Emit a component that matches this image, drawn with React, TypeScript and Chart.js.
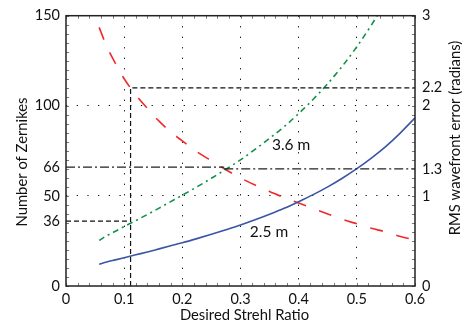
import React, { useEffect, useRef } from "react";
import { Chart, registerables } from "chart.js";

Chart.register(...registerables);

// ---- data ----
const strehl = [0.057, 0.07, 0.085, 0.1, 0.12, 0.14, 0.16, 0.18, 0.2, 0.225, 0.25, 0.275, 0.3, 0.325, 0.35, 0.375, 0.4, 0.425, 0.45, 0.475, 0.5, 0.525, 0.55, 0.575, 0.6];
const zernikes25m = [12.1, 13.3, 14.5, 15.7, 17.3, 18.9, 20.6, 22.3, 24.0, 26.3, 28.7, 31.2, 33.8, 36.7, 39.8, 43.1, 46.8, 50.7, 55.0, 59.8, 65.1, 71.0, 77.5, 85.0, 93.3];
const zernikes36m = [25.3, 27.9, 30.4, 33.0, 36.3, 39.7, 43.2, 46.8, 50.4, 55.0, 59.8, 64.8, 70.0, 75.8, 82.0, 88.4, 95.7, 103.6, 112.3, 122.0, 132.8, 144.8, 158.1, 173.4, 190.3];
const rmsError = [2.87, 2.66, 2.47, 2.30, 2.12, 1.97, 1.83, 1.71, 1.61, 1.49, 1.39, 1.29, 1.20, 1.12, 1.05, 0.98, 0.92, 0.86, 0.80, 0.74, 0.69, 0.64, 0.60, 0.55, 0.51];

const xTicks = [0, 0.1, 0.2, 0.3, 0.4, 0.5, 0.6];
const leftTicks = [0, 36, 50, 66, 100, 150];
const rightTicks = [0, 1, 1.3, 2, 2.2, 3];
const leftGrid = [50, 100];
const xGrid = [0.1, 0.2, 0.3, 0.4, 0.5];

// guide lines
const designStrehl = 0.111;
const guideZernikesLow = 36;
const guideRmsHigh = 2.2;
const guideZernikesMid = 66;
const guideRmsMid = 1.3;
const dashDotSplit = 0.272;

const curveLabels = [
  { text: "3.6 m", x: 0.387, y: 78 },
  { text: "2.5 m", x: 0.349, y: 30 },
];

const FONT = "Lato, 'Open Sans', sans-serif";

const decor = {
  id: "decor",
  afterDraw(chart: any) {
    const { ctx, chartArea: a, scales } = chart;
    const x = scales.x, y = scales.y, y2 = scales.y2;
    ctx.save();
    // minor tick marks (inward)
    ctx.strokeStyle = "#777";
    ctx.lineWidth = 1;
    ctx.beginPath();
    for (let i = 0; i <= 30; i++) {
      const px = Math.round(x.getPixelForValue(i * 0.02)) + 0.5;
      ctx.moveTo(px, a.bottom); ctx.lineTo(px, a.bottom - 3);
      ctx.moveTo(px, a.top); ctx.lineTo(px, a.top + 3);
    }
    for (let i = 0; i <= 30; i++) {
      const py = Math.round(y.getPixelForValue(i * 5)) + 0.5;
      ctx.moveTo(a.left, py); ctx.lineTo(a.left + 3, py);
      const py2 = Math.round(y2.getPixelForValue(i * 0.1)) + 0.5;
      ctx.moveTo(a.right, py2); ctx.lineTo(a.right - 3, py2);
    }
    ctx.stroke();
    // box
    ctx.strokeStyle = "#222";
    ctx.lineWidth = 1.5;
    ctx.strokeRect(a.left, a.top, a.right - a.left, a.bottom - a.top);

    // curve labels
    ctx.fillStyle = "#111";
    ctx.font = `15.5px ${FONT}`;
    ctx.textAlign = "center";
    ctx.textBaseline = "middle";
    for (const l of curveLabels) {
      ctx.fillText(l.text, x.getPixelForValue(l.x), y.getPixelForValue(l.y));
    }

    // axis titles
    ctx.font = `14.8px ${FONT}`;
    ctx.textBaseline = "alphabetic";
    ctx.fillText("Desired Strehl Ratio", (a.left + a.right) / 2 + 4, 320);

    ctx.save();
    ctx.translate(26.5, 162);
    ctx.rotate(-Math.PI / 2);
    ctx.fillText("Number of Zernikes", 0, 0);
    ctx.restore();

    ctx.save();
    ctx.translate(460, 138);
    ctx.rotate(-Math.PI / 2);
    ctx.fillText("RMS wavefront error (radians)", 0, 0);
    ctx.restore();

    ctx.restore();
  },
};

const pts = (xs: number[], ys: number[]) => xs.map((v, i) => ({ x: v, y: ys[i] }));

export default function App() {
  const ref = useRef<HTMLCanvasElement>(null);
  useEffect(() => {
    document.body.style.margin = "0";
    const canvas = ref.current!;
    const tickFont = { family: FONT, size: 14.5 };
    const chart = new Chart(canvas, {
      type: "line",
      data: {
        datasets: [
          {
            data: pts([0, designStrehl], [guideZernikesLow, guideZernikesLow]),
            yAxisID: "y", borderColor: "#111", borderWidth: 1.2, borderDash: [5, 3],
          },
          {
            data: [
              { x: designStrehl, y: 0 },
              { x: designStrehl, y: guideRmsHigh },
              { x: 0.6, y: guideRmsHigh },
            ],
            yAxisID: "y2", borderColor: "#111", borderWidth: 1.2, borderDash: [5, 3],
          },
          {
            data: pts([0, dashDotSplit], [guideZernikesMid, guideZernikesMid]),
            yAxisID: "y", borderColor: "#222", borderWidth: 1.2, borderDash: [9, 3, 2, 3],
          },
          {
            data: pts([dashDotSplit, 0.6], [guideRmsMid, guideRmsMid]),
            yAxisID: "y2", borderColor: "#222", borderWidth: 1.2, borderDash: [9, 3, 2, 3],
          },
          {
            data: pts(strehl, zernikes25m),
            yAxisID: "y", borderColor: "#3a55a5", borderWidth: 1.6, cubicInterpolationMode: "monotone",
          },
          {
            data: pts(strehl, zernikes36m),
            yAxisID: "y", borderColor: "#10914a", borderWidth: 1.6, borderDash: [6, 4, 2, 4],
            cubicInterpolationMode: "monotone",
          },
          {
            data: pts(strehl, rmsError),
            yAxisID: "y2", borderColor: "#ee2a2a", borderWidth: 1.6, borderDash: [13, 14],
            cubicInterpolationMode: "monotone",
          },
        ] as any,
      },
      options: {
        animation: false,
        responsive: false,
        devicePixelRatio: 1,
        layout: { padding: { top: 14, left: 0, right: 0, bottom: 0 } },
        elements: { point: { radius: 0 }, line: { fill: false } },
        plugins: { legend: { display: false }, tooltip: { enabled: false } },
        scales: {
          x: {
            type: "linear", min: 0, max: 0.6,
            afterBuildTicks: (s: any) => { s.ticks = xTicks.map((v) => ({ value: v })); },
            afterFit: (s: any) => { s.height = 44; },
            ticks: { font: tickFont, color: "#111", padding: 5, maxRotation: 0, callback: (v: any) => String(v) },
            grid: {
              drawTicks: false, lineWidth: 1,
              color: (c: any) => (xGrid.includes(c.tick?.value) ? "#000" : "rgba(0,0,0,0)"),
            },
            border: { display: false, dash: [1.2, 9.3] },
          },
          y: {
            type: "linear", position: "left", min: 0, max: 150,
            afterBuildTicks: (s: any) => { s.ticks = leftTicks.map((v) => ({ value: v })); },
            afterFit: (s: any) => { s.width = 66; },
            ticks: { font: tickFont, color: "#111", padding: 6, callback: (v: any) => String(v) },
            grid: {
              drawTicks: false, lineWidth: 1,
              color: (c: any) => (leftGrid.includes(c.tick?.value) ? "#000" : "rgba(0,0,0,0)"),
            },
            border: { display: false, dash: [1.2, 9.5] },
          },
          y2: {
            type: "linear", position: "right", min: 0, max: 3,
            afterBuildTicks: (s: any) => { s.ticks = rightTicks.map((v) => ({ value: v })); },
            afterFit: (s: any) => { s.width = 47; },
            ticks: { font: tickFont, color: "#111", padding: 7, callback: (v: any) => String(v) },
            grid: { display: false, drawTicks: false },
            border: { display: false },
          },
        },
      } as any,
      plugins: [decor],
    });
    return () => chart.destroy();
  }, []);
  return (
    <div style={{ position: "absolute", left: 0, top: 0, width: 462, height: 330 }}>
      <canvas ref={ref} width={462} height={330} style={{ display: "block" }} />
    </div>
  );
}
